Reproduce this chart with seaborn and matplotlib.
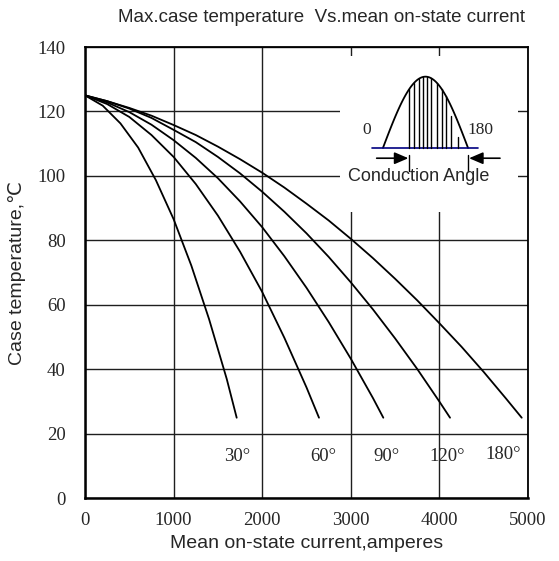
import numpy as np
import pandas as pd
import matplotlib
matplotlib.use("Agg")
import matplotlib.pyplot as plt
import seaborn as sns
from matplotlib.patches import Rectangle

# ---- data ----
angles = ["30°", "60°", "90°", "120°", "180°"]
x30 = [0, 200, 400, 600, 800, 1000, 1200, 1400, 1600, 1712]
y30 = [125, 121.8, 116.3, 108.8, 98.7, 86.6, 72.2, 55.6, 37, 25]
x60 = [0, 250, 500, 750, 1000, 1250, 1500, 1750, 2000, 2250, 2500, 2641]
y60 = [125, 122.3, 118.3, 112.7, 105.9, 97.5, 87.7, 76.5, 64, 49.8, 34.4, 25]
x90 = [0, 250, 500, 750, 1000, 1250, 1500, 1750, 2000, 2250, 2500, 2750, 3000, 3250, 3367]
y90 = [125, 122.8, 119.8, 115.9, 111.1, 105.6, 99.3, 92.1, 84.1, 75.1, 65.3, 54.7, 43.3, 31.1, 25]
x120 = [0, 250, 500, 750, 1000, 1250, 1500, 1750, 2000, 2250, 2500, 2750, 3000,
        3250, 3500, 3750, 4000, 4120]
y120 = [125, 123.2, 120.9, 118, 114.3, 110.5, 105.9, 100.8, 95.1, 88.9, 82.2, 74.9, 67,
        58.6, 49.6, 40.1, 30, 25]
x180 = [0, 250, 500, 750, 1000, 1250, 1500, 1750, 2000, 2250, 2500, 2750, 3000,
        3250, 3500, 3750, 4000, 4250, 4500, 4750, 4929]
y180 = [125, 123.2, 121.1, 118.7, 115.8, 112.7, 109.1, 105.2, 101, 96.4, 91.4, 86.2, 80.5,
        74.5, 68.1, 61.4, 54.3, 47, 39.2, 31, 25]
label_x = [1712, 2686, 3405, 4091, 4718]
label_y = [12.9, 12.9, 12.9, 12.9, 13.5]
xticks = [0, 1000, 2000, 3000, 4000, 5000]
yticks = [0, 20, 40, 60, 80, 100, 120, 140]

xs = [x30, x60, x90, x120, x180]
ys = [y30, y60, y90, y120, y180]
df = pd.concat([pd.DataFrame({"current": x, "temp": y, "angle": a})
                for a, x, y in zip(angles, xs, ys)], ignore_index=True)

sns.set_theme(style="white")
plt.rcParams["font.family"] = ["Liberation Sans", "DejaVu Sans"]

fig = plt.figure(figsize=(5.59, 5.61), dpi=100)
ax = fig.add_axes([85 / 559, 1 - 498.3 / 561, (528 - 85) / 559, (498.3 - 47) / 561])

sns.lineplot(data=df, x="current", y="temp", units="angle", estimator=None,
             sort=False, color="black", lw=1.3, ax=ax, zorder=3)

ax.set_xlim(0, 5000)
ax.set_ylim(0, 140)
ax.set_xticks(xticks)
ax.set_yticks(yticks)
ax.set_axisbelow(True)
ax.grid(True, color="#1e1e1e", lw=1.0)
for s in ax.spines.values():
    s.set_color("black")
    s.set_linewidth(1.3)
ax.spines["left"].set_linewidth(1.8)
ax.spines["bottom"].set_linewidth(1.8)

ax.tick_params(axis="x", length=0, pad=10, labelsize=13.5)
ax.tick_params(axis="y", length=0, pad=14, labelsize=13.5)
for lbl in ax.get_xticklabels() + ax.get_yticklabels():
    lbl.set_fontfamily(["Liberation Serif", "DejaVu Serif"])

ax.set_xlabel("Mean on-state current,amperes", fontsize=14, labelpad=4)
ax.set_ylabel("Case temperature,\u2103", fontsize=14, labelpad=8)
fig.text(321 / 559, 1 - 18 / 561, "Max.case temperature  Vs.mean on-state current",
         ha="center", va="center", fontsize=13.5)

# curve labels
for a, lx, ly in zip(angles, label_x, label_y):
    ax.text(lx, ly, a, ha="center", va="center", fontsize=13.5,
            family=["Liberation Serif", "DejaVu Serif"])

# ---- inset: conduction angle sketch ----
box_x0, box_x1, box_y0, box_y1 = 2878, 4887, 88.8, 137.3
ax.add_patch(Rectangle((box_x0, box_y0), box_x1 - box_x0, box_y1 - box_y0,
                       facecolor="white", edgecolor="none", zorder=1))
hump_x0, hump_x1, base_y, peak = 3363, 4323, 108.7, 22.1
t = np.linspace(0, 1, 100)
ax.plot(hump_x0 + t * (hump_x1 - hump_x0), base_y + peak * np.sin(np.pi * t),
        color="black", lw=1.3, zorder=4)
ax.plot([3235, 4439], [base_y, base_y], color="#000080", lw=1.2, zorder=4)
hatch_t = [0.31, 0.365, 0.42, 0.475, 0.52, 0.57, 0.63, 0.69, 0.74, 0.80, 0.886]
hatch_top = [None] * 9 + [118.7, 112.1]
for ht, top in zip(hatch_t, hatch_top):
    hx = hump_x0 + ht * (hump_x1 - hump_x0)
    hy = base_y + peak * np.sin(np.pi * ht) if top is None else top
    ax.plot([hx, hx], [base_y, hy], color="black", lw=1.0, zorder=4)
ax.text(3183, 114.1, "0", ha="center", va="center", fontsize=12.5,
        family=["Liberation Serif", "DejaVu Serif"], zorder=5)
ax.text(4458, 114.1, "180", ha="center", va="center", fontsize=12.5,
        family=["Liberation Serif", "DejaVu Serif"], zorder=5)
arr_y = 105.5
ax.annotate("", xy=(3650, arr_y), xytext=(3292, arr_y),
            arrowprops=dict(arrowstyle="-|>,head_length=0.7,head_width=0.3",
                            color="black", lw=1.2, shrinkA=0, shrinkB=0), zorder=5)
ax.annotate("", xy=(4335, arr_y), xytext=(4684, arr_y),
            arrowprops=dict(arrowstyle="-|>,head_length=0.7,head_width=0.3",
                            color="black", lw=1.2, shrinkA=0, shrinkB=0), zorder=5)
ax.plot([3660, 3660], [101.6, 106.5], color="black", lw=1.0, zorder=5)
ax.plot([4326, 4326], [101.6, 106.5], color="black", lw=1.0, zorder=5)
ax.text(3770, 99.9, "Conduction Angle", ha="center", va="center", fontsize=13,
        zorder=5)

fig.savefig("out.png", dpi=100)
